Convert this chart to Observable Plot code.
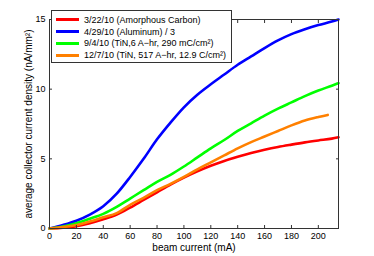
<!DOCTYPE html>
<html>
<head>
<meta charset="utf-8">
<script src="https://cdn.jsdelivr.net/npm/d3@7"></script>
<script src="https://cdn.jsdelivr.net/npm/@observablehq/plot@0.6"></script>
<style>
  html, body { margin: 0; padding: 0; background: #fff; }
  #wrap { position: relative; width: 374px; height: 256px; font-family: "Liberation Sans", Arial, Helvetica, sans-serif; }
  #legend { position: absolute; left: 51px; top: 10px; width: 181px; height: 53px; box-sizing: border-box;
    border: 1px solid #333; background: #fff; padding-top: 3px; }
  .row { display: flex; align-items: center; height: 11.8px; font-size: 9px; color: #000; white-space: nowrap; }
  .sw { width: 23px; height: 3px; margin-left: 4px; margin-right: 5px; }
</style>
</head>
<body>
<div id="wrap"></div>
<script>
const beam = [0,10,20,30,40,50,60,70,80,90,100,110,120,130,140,150,160,170,180,190,200,210,215];
const beamOrange = [0,10,20,30,40,50,60,70,80,90,100,110,120,130,140,150,160,170,180,190,200,207];
const carbon = [0,0.06,0.17,0.38,0.66,1.0,1.5,2.05,2.6,3.15,3.65,4.1,4.5,4.85,5.15,5.42,5.65,5.85,6.02,6.18,6.32,6.45,6.55];
const aluminum = [0,0.25,0.56,1.0,1.6,2.5,3.7,5.0,6.4,7.6,8.7,9.6,10.35,11.05,11.75,12.35,12.95,13.5,13.95,14.3,14.6,14.85,15.0];
const tin1 = [0,0.15,0.38,0.7,1.05,1.55,2.15,2.75,3.35,3.85,4.45,5.1,5.75,6.35,7.0,7.55,8.1,8.6,9.05,9.5,9.9,10.25,10.43];
const tin2 = [0,0.1,0.25,0.5,0.8,1.1,1.7,2.2,2.75,3.2,3.7,4.25,4.75,5.25,5.75,6.2,6.6,7.0,7.4,7.75,8.0,8.15];

const seriesNames = ["3/22/10 (Amorphous Carbon)", "4/29/10 (Aluminum) / 3", "9/4/10 (TiN,6 A\u2212hr, 290 mC/cm\u00B2)", "12/7/10 (TiN, 517 A\u2212hr, 12.9 C/cm\u00B2)"];
const seriesColors = ["#ff0000", "#0000ff", "#00ff00", "#ff8000"];
const xTicks = [0,20,40,60,80,100,120,140,160,180,200];
const yTicks = [0,5,10,15];
const xLabel = "beam current (mA)";
const yLabel = "average collector current density (nA/mm\u00B2)";

const series = [
  {name: seriesNames[0], color: seriesColors[0], x: beam, y: carbon},
  {name: seriesNames[1], color: seriesColors[1], x: beam, y: aluminum},
  {name: seriesNames[2], color: seriesColors[2], x: beam, y: tin1},
  {name: seriesNames[3], color: seriesColors[3], x: beamOrange, y: tin2}
];
const rows = series.flatMap(s => s.x.map((x, i) => ({name: s.name, x, y: s.y[i]})));

const FONT = "Liberation Sans, Arial, Helvetica, sans-serif";

const plot = Plot.plot({
  width: 374,
  height: 256,
  marginLeft: 49,
  marginRight: 36,
  marginTop: 19,
  marginBottom: 28,
  style: {fontFamily: FONT, fontSize: "9px", color: "#000", background: "#fff"},
  x: {domain: [0, 215]},
  y: {domain: [0, 15]},
  color: {domain: seriesNames, range: seriesColors},
  marks: [
    Plot.line(rows, {x: "x", y: "y", z: "name", stroke: "name", strokeWidth: 2.6, curve: "monotone-x"}),
    Plot.frame({stroke: "#333", strokeWidth: 1}),
    Plot.axisX(xTicks, {anchor: "bottom", tickSize: 0, tickPadding: 4, label: null, fontSize: 9}),
    Plot.axisX(xTicks, {anchor: "bottom", tickSize: -3, tickFormat: () => "", label: null, stroke: "#333"}),
    Plot.axisX(xTicks, {anchor: "top", tickSize: -3, tickFormat: () => "", label: null, stroke: "#333"}),
    Plot.axisY(yTicks, {anchor: "left", tickSize: 0, tickPadding: 4, label: null, fontSize: 9}),
    Plot.axisY(yTicks, {anchor: "left", tickSize: -3, tickFormat: () => "", label: null, stroke: "#333"}),
    Plot.axisY(yTicks, {anchor: "right", tickSize: -3, tickFormat: () => "", label: null, stroke: "#333"}),
    Plot.text([xLabel], {frameAnchor: "bottom", textAnchor: "middle", lineAnchor: "middle", dy: 19, fontSize: 10, fontFamily: FONT, fill: "#000"}),
    Plot.text([yLabel], {frameAnchor: "left", textAnchor: "middle", lineAnchor: "middle", rotate: -90, dx: -21, fontSize: 10, fontFamily: FONT, fill: "#000"})
  ]
});

const wrap = document.getElementById("wrap");
wrap.appendChild(plot);
const legend = document.createElement("div");
legend.id = "legend";
series.forEach(s => {
  const row = document.createElement("div");
  row.className = "row";
  const sw = document.createElement("span");
  sw.className = "sw";
  sw.style.background = s.color;
  const t = document.createElement("span");
  t.textContent = s.name;
  row.appendChild(sw);
  row.appendChild(t);
  legend.appendChild(row);
});
wrap.appendChild(legend);
</script>
</body>
</html>
